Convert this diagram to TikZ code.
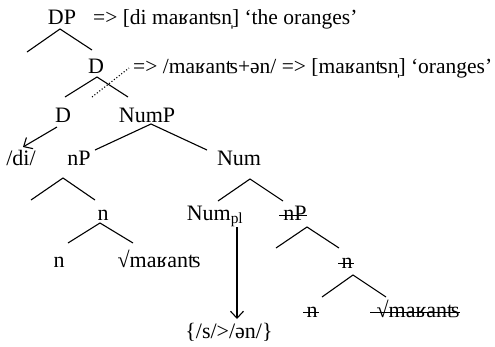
\documentclass[tikz,border=0pt]{standalone}
\usepackage{fontspec}
\setmainfont{Liberation Serif}
\usetikzlibrary{arrows.meta}
\begin{document}
\begin{tikzpicture}[x=1pt,y=-1pt,
  lbl/.style={inner sep=0pt,anchor=base,font=\fontsize{22}{26}\selectfont},
  ann/.style={lbl,anchor=base west,font=\fontsize{21.5}{26}\selectfont},
  br/.style={line width=1.1pt},
  strk/.style={line width=1pt},
  arr/.style={line width=1.1pt,-{Straight Barb[length=7pt,width=13pt,line width=1.1pt]}}]
\useasboundingbox (0,0) rectangle (495,346);
% labels
\node[lbl] (DP) at (62,24) {DP};
\node[ann] (DPann) at (93,24) {=> [di maʁanʦn̩] ‘the oranges’};
\node[lbl] (D1) at (96,73) {D};
\node[ann] (D1ann) at (133,73) {=> /maʁanʦ+ən/ => [maʁanʦn̩] ‘oranges’};
\node[lbl] (D2) at (63,122) {D};
\node[lbl] (NumP) at (147,122) {NumP};
\node[lbl] (di) at (21,165) {/di/};
\node[lbl] (nP) at (79,165) {nP};
\node[lbl] (Num) at (239,165) {Num};
\node[lbl] (n1) at (103,220) {n};
\node[lbl] (Numpl) at (215,220) {Num\textsubscript{pl}};
\node[lbl] (nPs) at (295,220) {nP};
\node[lbl] (n2) at (59,267) {n};
\node[lbl] (root1) at (159,267) {√maʁanʦ};
\node[lbl] (n3s) at (347,268) {n};
\node[lbl] (n4s) at (312,317) {n};
\node[lbl] (root2s) at (418,317) {√maʁanʦ};
\node[lbl] (exp) at (229,338) {\{/s/>/ən/\}};
% branch points
\coordinate (aDP) at (60,29);  \coordinate (lDP) at (27,52);  \coordinate (rDP) at (92,50);
\coordinate (aD) at (97,77);   \coordinate (lD) at (65,97);   \coordinate (rD) at (128,97);
\coordinate (dotA) at (92,97); \coordinate (dotB) at (129,68);
\coordinate (aNP) at (151,124); \coordinate (lNP) at (95,150); \coordinate (rNP) at (207,150);
\coordinate (anP) at (63,178); \coordinate (lnP) at (31,200); \coordinate (rnP) at (95,200);
\coordinate (an) at (100,223); \coordinate (ln) at (68,243); \coordinate (rn) at (133,243);
\coordinate (aNum) at (250,179); \coordinate (lNum) at (218,201); \coordinate (rNum) at (283,201);
\coordinate (anPs) at (307,227); \coordinate (lnPs) at (276,248); \coordinate (rnPs) at (339,248);
\coordinate (ans) at (353,275); \coordinate (lns) at (322,297); \coordinate (rns) at (386,297);
\coordinate (arrA) at (237,227); \coordinate (arrB) at (237,319);
\coordinate (dA) at (57,127); \coordinate (dB) at (23,147);
% branches
\draw[br] (lDP) -- (aDP) -- (rDP);
\draw[br] (lD) -- (aD) -- (rD);
\draw[br,dotted] (dotA) -- (dotB);
\draw[br] (lNP) -- (aNP) -- (rNP);
\draw[br] (lnP) -- (anP) -- (rnP);
\draw[br] (ln) -- (an) -- (rn);
\draw[br] (lNum) -- (aNum) -- (rNum);
\draw[br] (lnPs) -- (anPs) -- (rnPs);
\draw[br] (lns) -- (ans) -- (rns);
\draw[arr] (arrA) -- (arrB);
\draw[arr] (dA) -- (dB);
% strike-throughs
\draw[strk] ([xshift=-4pt,yshift=5pt]nPs.base west) -- ([yshift=5pt]nPs.base east);
\draw[strk] ([xshift=-3pt,yshift=5pt]n3s.base west) -- ([xshift=1pt,yshift=5pt]n3s.base east);
\draw[strk] ([xshift=-3pt,yshift=5pt]n4s.base west) -- ([xshift=1pt,yshift=5pt]n4s.base east);
\draw[strk] ([xshift=-6pt,yshift=5pt]root2s.base west) -- ([yshift=5pt]root2s.base east);
\end{tikzpicture}
\end{document}
